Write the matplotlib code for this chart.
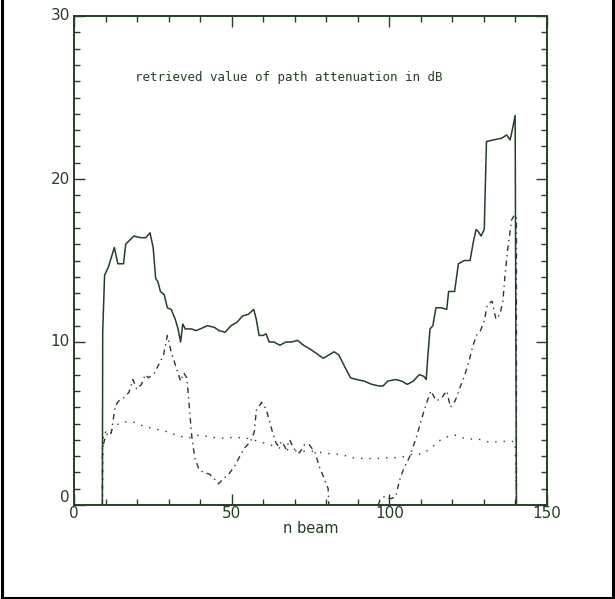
import matplotlib
matplotlib.use('Agg')
import matplotlib.pyplot as plt
from matplotlib.lines import Line2D
import numpy as np

INK = '#243f24'

# solid: retrieved path attenuation
solid_x = [9.0, 9.1, 9.7, 10.9, 12.8, 13.9, 15.7, 16.4, 17.4, 19.0, 21.1, 22.8, 24.1,
           25.1, 25.9, 26.6, 27.4, 28.6, 29.6, 30.8, 32.1, 33.0, 33.8, 34.5, 35.3,
           37.3, 38.6, 40.0, 42.3, 44.5, 46.0, 47.9, 49.8, 51.6, 53.5, 55.3, 57.0,
           57.8, 58.7, 59.9, 60.9, 61.9, 63.4, 65.3, 67.2, 69.0, 70.9, 72.8, 74.6,
           76.9, 79.0, 80.8, 82.5, 84.0, 85.8, 87.7, 89.6, 92.0, 94.5, 96.8, 98.0,
           99.5, 102.0, 103.9, 105.7, 107.6, 109.5, 110.9, 111.7, 112.2, 112.9,
           113.8, 114.8, 116.5, 118.2, 118.8, 120.7, 121.9, 123.8, 125.6, 126.6,
           127.5, 128.1, 129.1, 130.1, 130.8, 133.1, 135.6, 137.2, 138.3, 139.2,
           139.9, 140.3]
solid_y = [0.0, 10.6, 14.1, 14.6, 15.8, 14.8, 14.8, 16.0, 16.2, 16.5, 16.4, 16.4, 16.7,
           15.8, 13.9, 13.7, 13.1, 12.9, 12.1, 12.0, 11.4, 10.8, 10.0, 11.1, 10.8,
           10.8, 10.7, 10.8, 11.0, 10.9, 10.7, 10.6, 11.0, 11.2, 11.6, 11.7, 12.0,
           11.4, 10.4, 10.4, 10.5, 10.0, 10.0, 9.8, 10.0, 10.0, 10.1, 9.8, 9.6,
           9.3, 9.0, 9.2, 9.4, 9.2, 8.5, 7.8, 7.7, 7.6, 7.4, 7.3, 7.3,
           7.6, 7.7, 7.6, 7.4, 7.6, 8.0, 7.9, 7.7, 9.1, 10.8,
           11.0, 12.1, 12.1, 12.0, 13.1, 13.1, 14.8, 15.0, 15.0, 16.1,
           16.9, 16.8, 16.5, 16.9, 22.3, 22.4, 22.5, 22.7, 22.4, 23.2,
           23.9, 0.0]

# dash-dot
dd_x = [9.0, 9.0, 9.7, 10.9, 11.8, 13.1, 14.3, 15.9, 17.4, 18.7, 19.9, 21.4, 22.6,
        23.6, 25.5, 27.1, 28.4, 29.6, 30.8, 32.3, 33.8, 34.8, 35.8, 36.7, 37.3,
        38.3, 39.6, 41.0, 42.9, 44.5, 45.8, 47.3, 49.1, 51.0, 52.6, 54.1, 56.0,
        57.2, 57.8, 59.5, 60.9, 62.2, 63.2, 64.1, 64.9, 65.9, 67.2, 68.4, 69.7,
        71.5, 73.1, 74.6, 76.5, 77.7, 79.4, 80.6, 80.8, np.nan,
        96.5, 97.0, 98.3, 99.5, 100.7, 102.0, 103.2, 104.5, 106.3, 107.6, 108.8,
        110.1, 111.7, 113.2, 114.8, 116.3, 118.2, 119.4, 120.9, 122.6, 123.8,
        125.1, 126.4, 127.6, 128.9, 130.1, 131.1, 132.6, 133.8, 135.1, 136.0,
        136.7, 137.6, 138.8, 139.7, 140.3, 140.3]
dd_y = [0.0, 3.45, 4.0, 4.5, 4.4, 6.1, 6.4, 6.6, 6.9, 7.7, 7.1, 7.4, 8.0,
        7.8, 8.1, 8.7, 9.2, 10.4, 9.4, 8.5, 7.6, 8.1, 7.8, 5.7, 4.3,
        2.9, 2.2, 2.0, 1.9, 1.6, 1.3, 1.6, 1.9, 2.4, 3.0, 3.5, 3.9,
        4.5, 5.8, 6.3, 5.9, 5.0, 4.3, 3.8, 3.6, 3.9, 3.45, 4.0, 3.45,
        3.2, 3.7, 3.7, 3.2, 2.4, 1.6, 1.0, 0.0, np.nan,
        0.0, 0.3, 0.5, 0.4, 0.4, 0.5, 1.5, 2.2, 2.9, 3.6, 4.3,
        5.2, 6.2, 7.0, 6.4, 6.5, 7.0, 6.0, 6.4, 7.3, 7.9,
        8.7, 9.7, 10.4, 10.7, 11.3, 12.3, 12.5, 11.4, 11.7, 12.5,
        14.1, 15.8, 17.5, 17.8, 17.7, 0.0]

# dotted
dot_x = [9.0, 9.3, 11.2, 13.1, 16.2, 18.7, 21.1, 24.9, 28.6, 32.3, 36.1, 39.8, 43.5,
         47.3, 51.0, 54.7, 58.5, 62.2, 65.9, 70.9, 75.9, 80.8, 84.6, 88.3, 92.0,
         95.8, 99.5, 103.2, 107.0, 110.7, 113.2, 116.9, 120.6, 124.4, 128.1, 131.8,
         135.6, 139.9, 140.3]
dot_y = [0.0, 4.5, 4.4, 4.9, 5.1, 5.1, 4.9, 4.7, 4.55, 4.3, 4.1, 4.3, 4.15,
         4.1, 4.15, 4.1, 3.9, 3.7, 3.45, 3.3, 3.3, 3.15, 3.1, 2.9, 2.85,
         2.85, 2.9, 2.9, 3.1, 3.15, 3.5, 4.1, 4.3, 4.05, 4.05, 3.85,
         3.9, 3.9, 0.0]

x_major = [0, 50, 100, 150]
y_major = [0, 10, 20, 30]
NARROW = ['Liberation Sans Narrow', 'DejaVu Sans']

fig = plt.figure(figsize=(6.15, 5.99), dpi=100)
ax = fig.add_axes([74 / 615, 94 / 599, 473 / 615, 489 / 599])

ax.plot(solid_x, solid_y, color=INK, lw=1.1)
ax.plot(dd_x, dd_y, color=INK, lw=1.0, linestyle=(0, (4, 3, 1, 3)))
ax.plot(dot_x, dot_y, color=INK, lw=1.0, linestyle=(0, (1, 5)))

ax.set_xlim(0, 150)
ax.set_ylim(0, 30)
ax.set_xticks(x_major)
ax.set_xticks(np.arange(0, 151, 10), minor=True)
ax.set_yticks(y_major)
ax.set_yticks(np.arange(0, 31, 1), minor=True)
ax.tick_params(which='both', direction='in', top=True, right=True, color=INK, width=1.0)
ax.tick_params(which='major', length=8)
ax.tick_params(which='minor', length=4.3)
ax.set_yticklabels([])
ax.tick_params(axis='x', which='major', labelsize=11, labelcolor=INK, pad=1)
for lab in ax.get_xticklabels():
    lab.set_family(NARROW)

for v in y_major:
    yy = v + 0.45 if v == 0 else v
    ax.text(-1.3, yy, str(v), ha='right', va='center', fontsize=11, color=INK,
            family=NARROW)

for s in ax.spines.values():
    s.set_color(INK)
    s.set_linewidth(1.4)

ax.text(19.5, 26.25, 'retrieved value of path attenuation in dB', fontsize=9,
        family='DejaVu Sans Mono', color=INK, va='center', ha='left')
ax.set_xlabel('n beam', fontsize=10.5, color=INK, labelpad=0, family=NARROW)

# outer frame of the page
for coords in ([(1.5, 1.5), (0, 598)], [(613, 613), (0, 598)], [(1.5, 613), (597.5, 597.5)]):
    xs, ys = coords
    fig.add_artist(Line2D([c / 615 for c in xs], [1 - c / 599 for c in ys],
                          color='black', lw=2.2))

fig.savefig('out.png', dpi=100)
